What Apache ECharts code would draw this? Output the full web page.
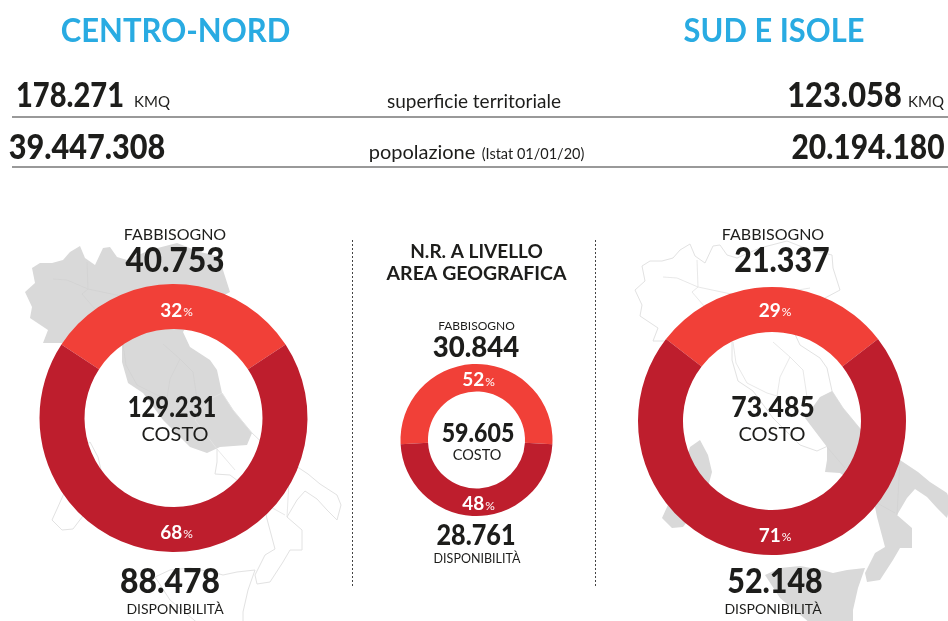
<!DOCTYPE html>
<html><head><meta charset="utf-8">
<style>html,body{margin:0;padding:0;background:#fff}#c{width:948px;height:621px}</style>
<script src="https://cdn.jsdelivr.net/npm/echarts@6/dist/echarts.min.js"></script>
</head><body><div id="c"></div>
<script>
// ---- data ----
const areas = ['CENTRO-NORD', 'N.R. A LIVELLO AREA GEOGRAFICA', 'SUD E ISOLE'];
const fabbisogno = [40753, 30844, 21337];
const disponibilita = [88478, 28761, 52148];
const costo = [129231, 59605, 73485];
const pctFabbisogno = [32, 52, 29];
const pctDisponibilita = [68, 48, 71];
const superficie = ['178.271', '123.058'];
const popolazione = ['39.447.308', '20.194.180'];
const fmt = v => String(v).replace(/\B(?=(\d{3})+$)/g, '.');

// ---- background map decoration (page px, left panel frame) ----
const north = [[25,292],[35,283],[32,268],[40,263],[52,263],[63,260],[70,252],[80,246],[85,258],[95,265],[103,248],[110,247],[117,257],[127,260],[150,250],[177,243],[200,252],[222,257],[223,270],[230,292],[215,300],[190,320],[183,332],[190,347],[210,360],[217,370],[222,393],[233,410],[252,433],[247,445],[220,447],[207,453],[190,447],[163,420],[143,393],[128,383],[122,362],[122,350],[122,343],[100,340],[63,343],[43,343],[48,330],[30,318],[32,307]];
const south = [[222,393],[233,410],[252,433],[270,450],[290,462],[308,474],[320,484],[337,495],[341,505],[337,520],[327,510],[317,499],[305,491],[297,500],[287,517],[302,530],[302,550],[290,550],[283,562],[270,582],[257,584],[255,575],[265,555],[275,549],[267,519],[265,509],[250,490],[230,475],[215,474],[217,462],[217,449],[195,420],[210,399]];
const sardinia = [[80,449],[90,442],[98,457],[102,474],[95,500],[73,529],[62,530],[52,520],[57,509],[70,480]];
const sicily = [[255,570],[237,572],[223,575],[212,572],[190,568],[170,570],[155,577],[170,600],[200,625],[243,640],[243,612],[248,590]];
const northBorders = [
 [[123,344],[126,365],[137,385],[157,395],[167,398]],
 [[163,344],[180,359],[170,379],[167,398]],
 [[180,359],[193,372],[197,399]],
 [[87,262],[88,289],[82,294],[100,315]],
 [[53,279],[67,280],[88,289]],
 [[88,289],[140,300],[200,290]]
];
const southBorders = [[[217,449],[235,470]],[[265,470],[267,505],[285,515]],[[290,462],[287,517]]];
const fillGrey = '#d9d9d9', lineGrey = '#e2e2e2', seamGrey = '#d2d2d2';
function mapGroup(dx, dy, filled) {
  const s = p => p.map(q => [q[0] + dx, q[1] + dy]);
  const poly = (pts, on) => ({ type: 'polygon', z: 0, shape: { points: s(pts) },
    style: on ? { fill: fillGrey, stroke: null } : { fill: null, stroke: lineGrey, lineWidth: 1 } });
  const seam = (b, on) => ({ type: 'polyline', z: 0, shape: { points: s(b) }, style: { fill: null, stroke: on ? seamGrey : lineGrey, lineWidth: 0.8 } });
  return [poly(north, filled.north), poly(south, filled.south), poly(sardinia, filled.south), poly(sicily, filled.south)]
    .concat(northBorders.map(b => seam(b, filled.north)), southBorders.map(b => seam(b, filled.south)));
}

// ---- text helpers ----
const INK = '#1d1d1b', FONT = 'Lato';
const T = (text, x, y, size, weight, scaleX, color) => ({
  type: 'text', z: 100, x, y, scaleX: scaleX || 1,
  style: { text, fontFamily: FONT, fontSize: size, fontWeight: weight || 400, fill: color || INK, textAlign: 'center', textVerticalAlign: 'middle' }
});
const line = (x1, y1, x2, y2, st) => ({ type: 'line', z: 1, shape: { x1, y1, x2, y2 }, style: st });

// ---- pies ----
const pieCfg = [
  { center: [173.5, 418], radius: [89, 134], top: [3, 7], bottom: [3, 0] },
  { center: [476.5, 440], radius: [48.5, 76], top: [2, 5], bottom: [2, -1] },
  { center: [772, 421], radius: [89, 134], top: [3, 4], bottom: [3, 0] }
];
const pctLabel = (pct, offset) => ({ offset });
const series = areas.map((a, i) => ({
  type: 'pie', name: a, center: pieCfg[i].center, radius: pieCfg[i].radius, silent: true, z: 5,
  startAngle: 90 + 180 * fabbisogno[i] / costo[i], clockwise: true,
  label: { position: 'inside', show: true, formatter: p => `{v|${p.data.pct}}{p|%}`,
    rich: { v: { fontFamily: FONT, fontWeight: 700, fontSize: 19, color: '#fff' }, p: { fontFamily: FONT, fontWeight: 400, fontSize: 12, color: '#fff', padding: [4, 0, 0, 1] } } },
  labelLine: { show: false }, emphasis: { disabled: true },
  data: [
    { name: 'Fabbisogno', value: fabbisogno[i], pct: pctFabbisogno[i], itemStyle: { color: '#F14038' }, label: pctLabel(pctFabbisogno[i], pieCfg[i].top) },
    { name: 'Disponibilità', value: disponibilita[i], pct: pctDisponibilita[i], itemStyle: { color: '#BE1E2D' }, label: pctLabel(pctDisponibilita[i], pieCfg[i].bottom) }
  ]
}));

const dotted = { stroke: '#444', lineWidth: 1, lineDash: [2, 2] };
const rule = { stroke: '#777', lineWidth: 1.4 };
const CY = '#29ABE2';
const graphics = [].concat(
  mapGroup(0, 0, { north: true, south: false }),
  mapGroup(610, -2, { north: false, south: true }),
  [
    line(12, 117, 948, 117, rule), line(12, 167, 948, 167, rule),
    line(352.5, 240, 352.5, 586, dotted), line(595.5, 240, 595.5, 586, dotted),
    T(areas[0], 175.5, 31, 33, 700, 0.94, CY),
    T(areas[2], 774, 31, 33, 700, 0.935, CY),
    T(superficie[0], 70, 96, 35, 900, 0.83),
    T('KMQ', 152, 102, 15, 400),
    T('superficie territoriale', 474, 102, 19, 400),
    T(superficie[1], 844.5, 96, 35, 900, 0.88),
    T('KMQ', 926, 102, 15, 400),
    T(popolazione[0], 87, 148, 35, 900, 0.875),
    T('popolazione', 422, 153, 20, 400),
    T('(Istat 01/01/20)', 533, 154, 14.5, 400),
    T(popolazione[1], 868, 148, 35, 900, 0.855),
    // left
    T('FABBISOGNO', 175, 235, 16, 400),
    T(fmt(fabbisogno[0]), 175, 261, 35, 900, 0.9),
    T(fmt(costo[0]), 172, 408, 28, 900, 0.85),
    T('COSTO', 175, 435, 20, 400),
    T(fmt(disponibilita[0]), 170, 582, 35, 900, 0.91),
    T('DISPONIBILITÀ', 175, 609, 14, 400),
    // middle
    T('N.R. A LIVELLO', 476.5, 252, 19, 700),
    T('AREA GEOGRAFICA', 476.5, 274, 19.5, 700),
    T('FABBISOGNO', 476.5, 326, 12, 400),
    T(fmt(fabbisogno[1]), 476, 348, 29, 900, 0.95),
    T(fmt(costo[1]), 478, 434, 26, 900, 0.89),
    T('COSTO', 477, 455, 14.5, 400),
    T(fmt(disponibilita[1]), 476, 536, 28, 900, 0.9),
    T('DISPONIBILITÀ', 477, 559, 12.5, 400),
    // right
    T('FABBISOGNO', 773, 235, 16, 400),
    T(fmt(fabbisogno[2]), 782, 261, 35, 900, 0.87),
    T(fmt(costo[2]), 773, 408, 28, 900, 0.95),
    T('COSTO', 772, 435, 20, 400),
    T(fmt(disponibilita[2]), 775, 582, 35, 900, 0.87),
    T('DISPONIBILITÀ', 773, 609, 14, 400)
  ]
);

const chart = echarts.init(document.getElementById('c'), null, { renderer: 'canvas' });
chart.setOption({ backgroundColor: '#fff', animation: false, series, graphic: { elements: graphics } });
</script></body></html>
